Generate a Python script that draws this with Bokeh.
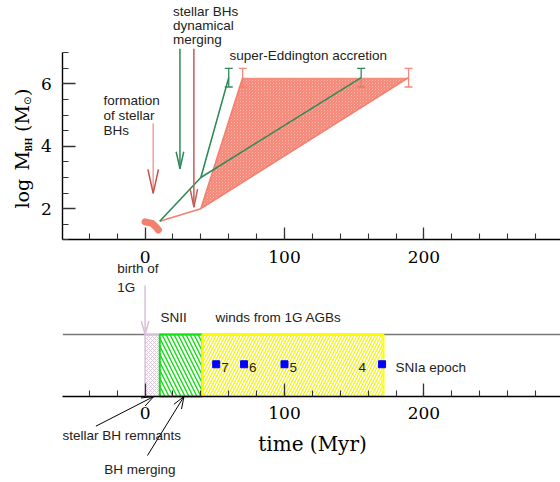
import math
from bokeh.plotting import figure
from bokeh.models import (Range1d, LinearAxis, SingleIntervalTicker, Whisker,
                          ColumnDataSource, TeeHead)
from bokeh.core.properties import value
from bokeh.embed import file_html
from bokeh.resources import INLINE

# ---------------- data ----------------
# top panel: log M_BH (Msun) versus time (Myr)
blob_t = [0.0, 5.0, 8.5, 9.5]
blob_m = [1.58, 1.53, 1.38, 1.32]

red_fast_t = [10.5, 40.0, 70.0]
red_fast_m = [1.6, 2.0, 6.2]
red_slow_t = [40.0, 189.0]
red_slow_m = [2.0, 6.2]
red_zone_t = [40.0, 70.0, 189.0]
red_zone_m = [2.0, 6.2, 6.2]

green_fast_t = [10.5, 40.0, 60.0]
green_fast_m = [1.6, 3.0, 6.2]
green_slow_t = [40.0, 155.0]
green_slow_m = [3.0, 6.2]

red_err_t = [70.0, 189.0]
green_err_t = [60.0, 155.0]
err_m = 6.2
err_half = 0.3

# vertical arrows of the top panel: (time, start, tip)
arrow_form = (5.8, 4.74, 2.49)
arrow_green = (25.0, 7.13, 3.28)
arrow_red = (35.0, 7.13, 2.05)

# bottom panel: phases of the first generation
phase_start = [0.0, 10.5, 41.0]
phase_end = [10.5, 41.0, 171.0]
band_bottom, band_top = 0.0, 1.0
agb_t = [51.0, 71.0, 100.0, 170.0]
agb_mass = ["7", "6", "5", "4"]
agb_level = 0.52

t_axis_min = -59.0
mass_ticks_interval = 2
time_ticks_interval = 100

# ---------------- figure ----------------
W, H = 560, 482
X0, X1 = -103.73, 298.0
YT0, YT1 = -6.776, 8.673
YB0, YB1 = -1.387, 6.387
SX = W / (X1 - X0)
SYT = H / (YT1 - YT0)
SYB = H / (YB1 - YB0)

p = figure(width=W, height=H, x_range=Range1d(X0, X1), y_range=Range1d(YT0, YT1),
           output_backend="svg", toolbar_location=None,
           x_axis_location=None, y_axis_location=None, min_border=0,
           outline_line_color=None, background_fill_color="white",
           border_fill_color="white")
p.extra_y_ranges = {"bot": Range1d(YB0, YB1)}
p.grid.visible = False

SERIF = "DejaVu Serif"
SANS = "Liberation Sans"
TXT = "#222222"
SALMON = "#F47F6E"
GREEN = "#2E8B57"


def style_axis(ax, tick_in):
    ax.axis_line_color = "black"
    ax.axis_line_width = 1.4
    ax.major_tick_in = tick_in
    ax.major_tick_out = 0
    ax.minor_tick_in = 6
    ax.minor_tick_out = 0
    ax.major_tick_line_color = "#333333"
    ax.major_tick_line_width = 1.3
    ax.minor_tick_line_color = "#333333"
    ax.minor_tick_line_width = 1.1
    ax.major_label_text_font = SERIF
    ax.major_label_text_font_size = "17px"
    ax.major_label_text_color = "black"


# left axis (top panel)
yax = LinearAxis(fixed_location=t_axis_min, bounds=(1, 7),
                 ticker=SingleIntervalTicker(interval=mass_ticks_interval, num_minor_ticks=4))
style_axis(yax, 13)
yax.major_label_standoff = 11
p.add_layout(yax, "left")

# time axis of top panel
xax_top = LinearAxis(fixed_location=1, bounds=(t_axis_min, X1),
                     ticker=SingleIntervalTicker(interval=time_ticks_interval, num_minor_ticks=5))
style_axis(xax_top, 12)
xax_top.major_label_standoff = 11
p.add_layout(xax_top, "below")

# time axis of bottom panel
xax_bot = LinearAxis(fixed_location=0, bounds=(t_axis_min, X1), y_range_name="bot",
                     ticker=SingleIntervalTicker(interval=time_ticks_interval, num_minor_ticks=5))
style_axis(xax_bot, 13)
xax_bot.major_label_standoff = 10
p.add_layout(xax_bot, "below")


def head(tx, ty, fx, fy, length, half, sy):
    dx = (tx - fx) * SX
    dy = (ty - fy) * sy
    n = math.hypot(dx, dy)
    ux, uy = dx / n, dy / n
    nx, ny = -uy, ux
    bx, by = -length * ux, -length * uy
    xs = [tx + (bx + half * nx) / SX, tx, tx + (bx - half * nx) / SX]
    ys = [ty + (by + half * ny) / sy, ty, ty + (by - half * ny) / sy]
    return xs, ys


def arrow(fx, fy, tx, ty, length, half, shaft_color, head_color, width=1.5, rng="default"):
    sy = SYB if rng == "bot" else SYT
    p.line([fx, tx], [fy, ty], line_color=shaft_color, line_width=width, y_range_name=rng)
    hx, hy = head(tx, ty, fx, fy, length, half, sy)
    p.line(hx, hy, line_color=head_color, line_width=width, y_range_name=rng)


def label(xs, ys, texts, rng="default", align="left", size="13.5px", font=SANS,
          color=TXT, **kw):
    p.text(x=xs, y=ys, text=texts, text_align=align, text_baseline="middle",
           text_font=value(font), text_font_size=size, text_color=color,
           y_range_name=rng, **kw)


# ---------- top panel ----------
p.patch(red_zone_t, red_zone_m, fill_color=SALMON, fill_alpha=0.22, line_color=None,
        hatch_pattern="left_diagonal_line", hatch_color=SALMON, hatch_scale=3,
        hatch_weight=1.2)
p.line(red_fast_t, red_fast_m, line_color=SALMON, line_width=1.6)
p.line(red_slow_t, red_slow_m, line_color=SALMON, line_width=1.6)
p.line(green_fast_t, green_fast_m, line_color=GREEN, line_width=1.6)
p.line(green_slow_t, green_slow_m, line_color=GREEN, line_width=1.6)

for ts, col in ((red_err_t, "#F48A7A"), (green_err_t, GREEN)):
    src = ColumnDataSource(dict(t=ts, lo=[err_m - err_half] * len(ts),
                                hi=[err_m + err_half] * len(ts)))
    p.add_layout(Whisker(base="t", lower="lo", upper="hi", source=src,
                         dimension="height", line_color=col, line_width=1.3,
                         upper_head=TeeHead(size=8, line_color=col, line_width=1.3),
                         lower_head=TeeHead(size=8, line_color=col, line_width=1.3)))

p.line(blob_t, blob_m, line_color=SALMON, line_width=7, line_cap="round",
       line_join="round")

arrow(arrow_form[0], arrow_form[1], arrow_form[0], arrow_form[2], 24, 5.3,
      "#EBA3A3", "#C4504C")
arrow(arrow_green[0], arrow_green[1], arrow_green[0], arrow_green[2], 17, 3.8,
      GREEN, GREEN)
arrow(arrow_red[0], arrow_red[1], arrow_red[0], arrow_red[2], 18, 3.7,
      "#C85A55", "#C85A55")

label([-29.8, -29.8, -29.8], [5.468, 4.987, 4.522], ["formation", "of stellar", "BHs"])
label([20.0, 20.0, 20.0], [8.32, 7.872, 7.423], ["stellar BHs", "dynamical", "merging"])
label([60.5], [6.91], ["super-Eddington accretion"])

# y-axis title built from pieces (with subscripts)
rot = math.pi / 2
big = dict(size="19px", font=SERIF, color="black", angle=rot)
label([-88.2], [2.006], ["log"], **big)
label([-88.2], [3.224], ["M"], **big)
label([-83.3], [3.833], ["BH"], size="9.5px", font="Liberation Serif", color="black",
      angle=rot, text_font_style="bold")
label([-88.2], [4.458], ["(M"], **big)
label([-84.4], [5.324], ["\u2299"], size="10px", font="DejaVu Sans", color="black",
      angle=rot)
label([-88.2], [5.612], [")"], **big)

# ---------- bottom panel ----------
p.segment(x0=[t_axis_min], y0=[band_top], x1=[X1], y1=[band_top], line_color="#777777",
          line_width=1.5, y_range_name="bot")

phase_styles = [
    dict(line_color="#D8BFD8", line_width=1.5, hatch_pattern="diagonal_cross",
         hatch_color="#D9B9D9", hatch_scale=4, hatch_weight=0.8),
    dict(line_color="#10E010", line_width=2, hatch_pattern="left_diagonal_line",
         hatch_color="#10E010", hatch_scale=8, hatch_weight=1.4),
    dict(line_color="#FFFF00", line_width=2, hatch_pattern="right_diagonal_line",
         hatch_color="#F2F200", hatch_scale=6, hatch_weight=1.1),
]
for i, st in enumerate(phase_styles):
    p.quad(left=[phase_start[i]], right=[phase_end[i]], bottom=[band_bottom],
           top=[band_top], fill_color=None, y_range_name="bot", **st)

p.scatter(agb_t, [agb_level] * len(agb_t), marker="square", size=7, fill_color="blue",
          line_color="blue", y_range_name="bot")
label(agb_t[:3], [agb_level] * 3, agb_mass[:3], rng="bot", x_offset=5, y_offset=3)
label(agb_t[3:], [agb_level], agb_mass[3:], rng="bot", align="right", x_offset=-16,
      y_offset=3)

arrow(0.0, 1.79, 0.0, band_top, 13.5, 3.8, "#D8BFD8", "#D8BFD8", rng="bot")
arrow(-35.3, -0.479, 6.2, band_bottom, 12, 4.5, "black", "black", width=1, rng="bot")
arrow(1.7, -0.952, 27.9, band_bottom, 12, 4.5, "black", "black", width=1, rng="bot")

label([-20.0, -20.0], [2.065, 1.763], ["birth of", "1G"], rng="bot")
label([11.0], [1.27], ["SNII"], rng="bot")
label([50.5], [1.27], ["winds from 1G AGBs"], rng="bot")
label([179.6], [0.468], ["SNIa epoch"], rng="bot")
label([-16.7], [-0.629], ["stellar BH remnants"], rng="bot", align="center")
label([-3.8], [-1.177], ["BH merging"], rng="bot", align="center")
label([120.1], [-0.758], ["time (Myr)"], rng="bot", align="center", size="20px",
      font=SERIF, color="black")

open("out.html", "w").write(file_html(p, INLINE))
